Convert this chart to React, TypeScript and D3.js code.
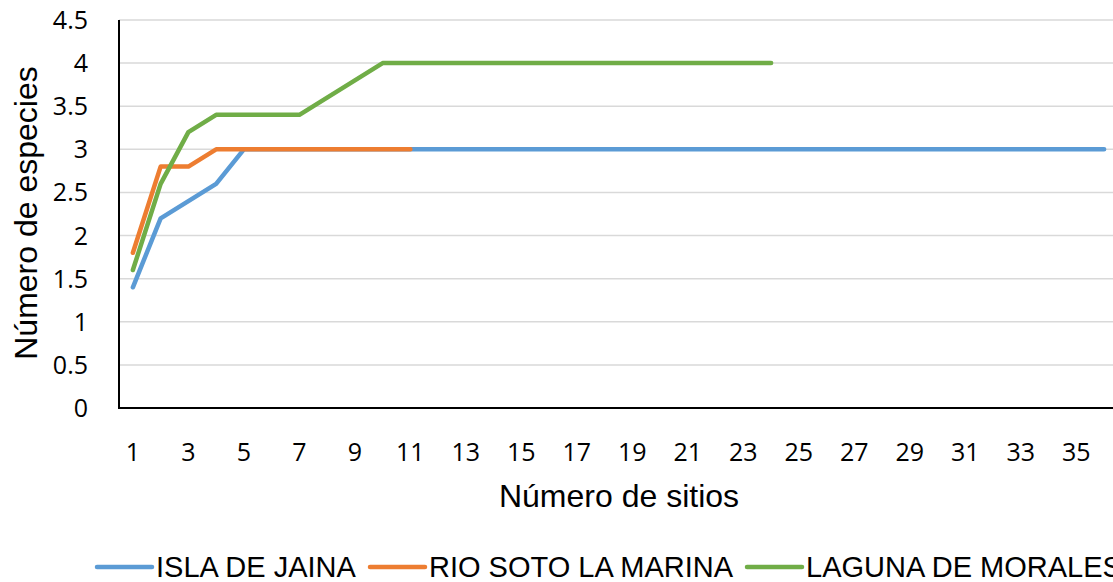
import React from "react";
import * as d3 from "d3";

const sites = [1,2,3,4,5,6,7,8,9,10,11,12,13,14,15,16,17,18,19,20,21,22,23,24,25,26,27,28,29,30,31,32,33,34,35,36];
const xTickLabels = [1,3,5,7,9,11,13,15,17,19,21,23,25,27,29,31,33,35];
const yTicks = [0,0.5,1,1.5,2,2.5,3,3.5,4,4.5];

const islaDeJaina = [1.4,2.2,2.4,2.6,3,3,3,3,3,3,3,3,3,3,3,3,3,3,3,3,3,3,3,3,3,3,3,3,3,3,3,3,3,3,3,3];
const rioSotoLaMarina = [1.8,2.8,2.8,3,3,3,3,3,3,3,3];
const lagunaDeMorales = [1.6,2.6,3.2,3.4,3.4,3.4,3.4,3.6,3.8,4,4,4,4,4,4,4,4,4,4,4,4,4,4,4];

const seriesNames = ["ISLA DE JAINA","RIO SOTO LA MARINA","LAGUNA DE MORALES"];
const seriesColors = ["#5B9BD5","#ED7D31","#70AD47"];
const seriesValues = [islaDeJaina, rioSotoLaMarina, lagunaDeMorales];

const W = 1113, H = 582;
const left = 119, right = 1118, top = 20, bottom = 408;

export default function App() {
  const x = d3.scaleBand<number>().domain(sites).range([left, right]);
  const y = d3.scaleLinear().domain([0, 4.5]).range([bottom, top]);
  const cx = (s: number) => (x(s) as number) + x.bandwidth() / 2;
  const line = d3.line<number>().x((_, i) => cx(sites[i])).y((v) => y(v));

  const legendX = [97, 370, 747];

  return (
    <div style={{ position: "fixed", left: 0, top: 0, width: W, height: H, background: "#fff" }}>
      <svg width={W} height={H} style={{ display: "block" }}>
        <rect x={0} y={0} width={W} height={H} fill="#fff" />
        {yTicks.filter((t) => t > 0).map((t) => (
          <line key={t} x1={left} x2={right} y1={y(t)} y2={y(t)} stroke="#D9D9D9" strokeWidth={1.5} />
        ))}
        <line x1={left} x2={left} y1={top} y2={bottom} stroke="#000" strokeWidth={2} />
        <line x1={left - 1} x2={right} y1={bottom} y2={bottom} stroke="#000" strokeWidth={2} />
        {yTicks.map((t) => (
          <text key={t} x={88} y={y(t)} dy="0.36em" textAnchor="end" fontFamily="'Open Sans', sans-serif" fontSize={25} fill="#000">
            {t}
          </text>
        ))}
        {xTickLabels.map((s) => (
          <text key={s} x={cx(s)} y={452} dy="0.36em" textAnchor="middle" fontFamily="'Open Sans', sans-serif" fontSize={25} fill="#000">
            {s}
          </text>
        ))}
        {seriesValues.map((vals, i) => (
          <path key={i} d={line(vals) || ""} fill="none" stroke={seriesColors[i]} strokeWidth={4.5} strokeLinejoin="round" strokeLinecap="round" />
        ))}
        <text x={619} y={507} textAnchor="middle" fontFamily="'Liberation Sans', Arial, sans-serif" fontSize={32} fill="#000">
          Número de sitios
        </text>
        <text transform="translate(37,213) rotate(-90)" textAnchor="middle" fontFamily="'Liberation Sans', Arial, sans-serif" fontSize={32} fill="#000">
          Número de especies
        </text>
        {seriesNames.map((n, i) => (
          <g key={n}>
            <line x1={legendX[i]} x2={legendX[i] + 55} y1={567} y2={567} stroke={seriesColors[i]} strokeWidth={4.5} strokeLinecap="round" />
            <text x={legendX[i] + 59} y={577} fontFamily="'Liberation Sans', Arial, sans-serif" fontSize={29} fill="#000">
              {n}
            </text>
          </g>
        ))}
      </svg>
    </div>
  );
}
